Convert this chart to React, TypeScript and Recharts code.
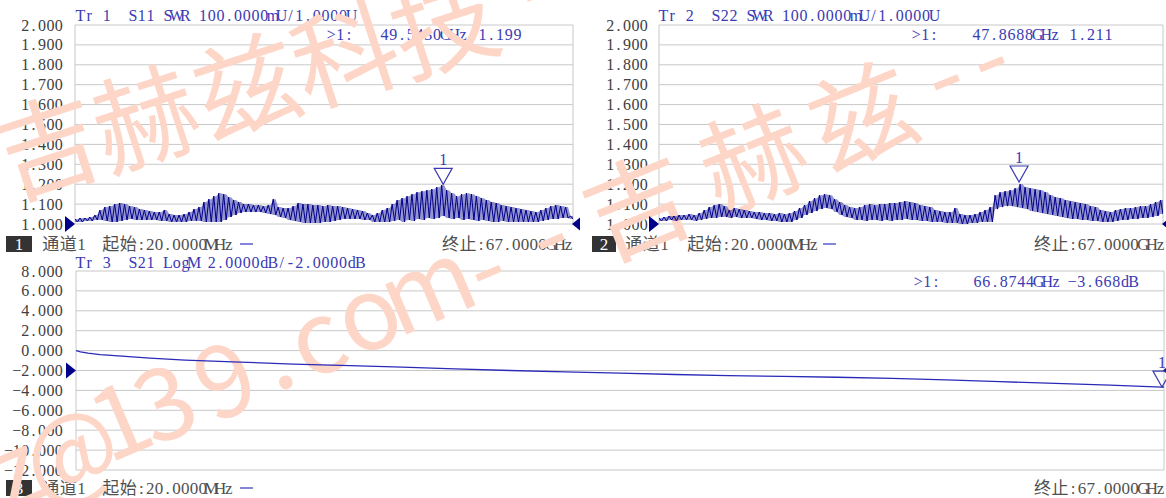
import React from 'react';
import { ComposedChart, LineChart, Line, Area, XAxis, YAxis, CartesianGrid, ReferenceDot } from 'recharts';

const START_GHZ = 0.02;
const STOP_GHZ = 67;

const swrTicks = [1.0, 1.1, 1.2, 1.3, 1.4, 1.5, 1.6, 1.7, 1.8, 1.9, 2.0];
const swrTickLabels = ['1.000', '1.100', '1.200', '1.300', '1.400', '1.500', '1.600', '1.700', '1.800', '1.900', '2.000'];
const logTicks = [-12, -10, -8, -6, -4, -2, 0, 2, 4, 6, 8];
const logTickLabels = ['−12.000', '−10.000', '−8.000', '−6.000', '−4.000', '−2.000', '0.000', '2.000', '4.000', '6.000', '8.000'];

// S11 SWR sweep: upper and lower envelope of the ripple, read along the sweep
const s11Upper = [
  1.025, 1.03, 1.03, 1.035, 1.045, 1.07, 1.085, 1.09, 1.1, 1.105,
  1.1, 1.09, 1.085, 1.075, 1.07, 1.065, 1.06, 1.06, 1.07, 1.05,
  1.045, 1.045, 1.05, 1.06, 1.075, 1.085, 1.11, 1.125, 1.14, 1.155,
  1.15, 1.135, 1.12, 1.11, 1.1, 1.1, 1.095, 1.095, 1.09, 1.095,
  1.125, 1.085, 1.08, 1.08, 1.09, 1.105, 1.1, 1.1, 1.095, 1.095,
  1.09, 1.095, 1.09, 1.09, 1.085, 1.08, 1.075, 1.07, 1.065, 1.055,
  1.045, 1.055, 1.07, 1.08, 1.1, 1.12, 1.13, 1.14, 1.15, 1.16,
  1.165, 1.17, 1.175, 1.185, 1.195, 1.17, 1.155, 1.14, 1.15, 1.155,
  1.15, 1.14, 1.13, 1.12, 1.11, 1.105, 1.095, 1.09, 1.085, 1.08,
  1.075, 1.07, 1.065, 1.06, 1.07, 1.08, 1.09, 1.095, 1.09, 1.085,
  1.04,
];
const s11Lower = [
  1.01, 1.01, 1.015, 1.015, 1.02, 1.02, 1.015, 1.01, 1.01, 1.015,
  1.02, 1.025, 1.02, 1.02, 1.02, 1.02, 1.02, 1.015, 1.015, 1.01,
  1.01, 1.01, 1.01, 1.015, 1.015, 1.015, 1.01, 1.01, 1.01, 1.01,
  1.02, 1.035, 1.045, 1.055, 1.06, 1.06, 1.06, 1.06, 1.055, 1.05,
  1.045, 1.035, 1.03, 1.02, 1.015, 1.01, 1.005, 1.005, 1.005, 1.005,
  1.01, 1.01, 1.015, 1.02, 1.025, 1.025, 1.025, 1.025, 1.02, 1.02,
  1.01, 1.01, 1.01, 1.01, 1.015, 1.02, 1.01, 1.02, 1.015, 1.025,
  1.02, 1.03, 1.025, 1.03, 1.04, 1.03, 1.025, 1.03, 1.02, 1.025,
  1.02, 1.015, 1.02, 1.015, 1.01, 1.01, 1.015, 1.01, 1.01, 1.01,
  1.01, 1.01, 1.01, 1.01, 1.015, 1.02, 1.025, 1.025, 1.03, 1.03,
  1.025,
];

// S22 SWR sweep envelopes
const s22Upper = [
  1.03, 1.035, 1.04, 1.04, 1.045, 1.045, 1.05, 1.045, 1.055, 1.07,
  1.085, 1.095, 1.1, 1.09, 1.07, 1.08, 1.075, 1.07, 1.065, 1.06,
  1.06, 1.055, 1.055, 1.05, 1.055, 1.05, 1.055, 1.065, 1.08, 1.095,
  1.115, 1.13, 1.145, 1.15, 1.145, 1.125, 1.11, 1.095, 1.085, 1.08,
  1.085, 1.095, 1.1, 1.095, 1.1, 1.1, 1.105, 1.105, 1.11, 1.115,
  1.11, 1.105, 1.095, 1.09, 1.085, 1.07, 1.065, 1.06, 1.06, 1.08,
  1.05, 1.045, 1.045, 1.05, 1.06, 1.07, 1.085, 1.145, 1.16, 1.165,
  1.17, 1.18, 1.2, 1.185, 1.18, 1.175, 1.17, 1.16, 1.145, 1.135,
  1.13, 1.12, 1.115, 1.11, 1.105, 1.1, 1.09, 1.085, 1.07, 1.065,
  1.06, 1.07, 1.075, 1.08, 1.08, 1.085, 1.09, 1.09, 1.1, 1.11,
  1.12,
];
const s22Lower = [
  1.015, 1.015, 1.02, 1.015, 1.02, 1.02, 1.02, 1.015, 1.02, 1.025,
  1.03, 1.03, 1.035, 1.035, 1.03, 1.035, 1.03, 1.03, 1.03, 1.025,
  1.02, 1.02, 1.015, 1.015, 1.01, 1.01, 1.01, 1.02, 1.03, 1.045,
  1.055, 1.065, 1.075, 1.08, 1.075, 1.06, 1.045, 1.035, 1.03, 1.02,
  1.02, 1.015, 1.02, 1.02, 1.015, 1.02, 1.015, 1.02, 1.02, 1.025,
  1.02, 1.02, 1.015, 1.015, 1.01, 1.01, 1.01, 1.005, 1.005, 1.005,
  1.0, 1.0, 1.005, 1.005, 1.01, 1.01, 1.01, 1.075, 1.085, 1.09,
  1.09, 1.085, 1.08, 1.075, 1.065, 1.06, 1.055, 1.05, 1.045, 1.04,
  1.035, 1.03, 1.025, 1.025, 1.02, 1.02, 1.015, 1.015, 1.01, 1.01,
  1.01, 1.015, 1.02, 1.02, 1.025, 1.025, 1.03, 1.03, 1.035, 1.04,
  1.05,
];

// S21 LogM (dB)
const s21Freq = [0.02, 0.3, 0.76, 1.5, 2.85, 4.57, 6.73, 10.12, 13.38, 16.89, 20.09, 23.35, 26.74, 30.12, 33.51, 36.89, 40.16, 43.54, 46.87, 50.25, 53.58, 56.9, 60.29, 63.67, 66.87, 67.0];
const s21Values = [0.0, -0.12, -0.25, -0.4, -0.55, -0.75, -0.95, -1.15, -1.35, -1.5, -1.67, -1.83, -2.0, -2.13, -2.27, -2.4, -2.52, -2.6, -2.68, -2.8, -2.95, -3.12, -3.3, -3.47, -3.668, -3.66];

const s11Marker = { f: 49.543, v: 1.199 };
const s22Marker = { f: 47.8688, v: 1.211 };
const s21Marker = { f: 66.8744, v: -3.668 };

const gridX = Array.from({ length: 11 }, (_, i) => START_GHZ + (i * (STOP_GHZ - START_GHZ)) / 10);

type Pt = { f: number; v: number; band?: [number, number] };

function zigzag(upper: number[], lower: number[]): Pt[] {
  const n = upper.length + lower.length;
  const step = (STOP_GHZ - START_GHZ) / (n - 1);
  const out: Pt[] = [];
  for (let i = 0; i < upper.length; i++) {
    const band: [number, number] = [lower[i], upper[i]];
    out.push({ f: START_GHZ + 2 * i * step, v: upper[i], band });
    if (i < lower.length) out.push({ f: START_GHZ + (2 * i + 1) * step, v: lower[i], band });
  }
  return out;
}

const s11Data = zigzag(s11Upper, s11Lower);
const s22Data = zigzag(s22Upper, s22Lower);
const s21Data: Pt[] = s21Freq.map((f, i) => ({ f, v: s21Values[i] }));

const SERIF = "'Liberation Serif', 'Noto Sans CJK SC', serif";
const WM_FONT = "'Noto Sans CJK SC', 'Noto Sans', sans-serif";
const TRACE = '#00008b';
const BLUE_TEXT = '#3a3ab4';
const GRID = '#c8c8c8';

function isWide(c: string) {
  return /[\u2E80-\u9FFF\uFF01-\uFF60]/.test(c);
}

function MonoText({ x, y, text, cell, anchor = 'start', fill, size }: any) {
  const chars = Array.from(text as string);
  const units = chars.map((c) => (isWide(c) ? 2 : 1));
  const total = units.reduce((a, b) => a + b, 0) * cell;
  let pos = anchor === 'end' ? x - total : x;
  const xs: number[] = [];
  const shown: string[] = [];
  chars.forEach((c, i) => {
    const w = units[i] * cell;
    if (c !== ' ') {
      xs.push(+(pos + w / 2).toFixed(2));
      shown.push(c);
    }
    pos += w;
  });
  return (
    <text x={xs.join(' ')} y={y} textAnchor="middle" fill={fill} fontSize={size} fontFamily={SERIF}>
      {shown.join('')}
    </text>
  );
}

const makeTick = (ticks: number[], labels: string[]) => (props: any) => {
  const { x, y, payload } = props;
  const idx = ticks.indexOf(payload.value);
  const label = idx >= 0 ? labels[idx] : String(payload.value);
  return <MonoText x={x} y={y + 5.5} text={label} cell={8.4} anchor="end" fill="#404040" size={16} />;
};
const swrTick = makeTick(swrTicks, swrTickLabels);
const logTick = makeTick(logTicks, logTickLabels);

const leftRef = (p: any) => (
  <polygon points={`${p.cx - 10},${p.cy - 8} ${p.cx},${p.cy} ${p.cx - 10},${p.cy + 8}`} fill={TRACE} />
);
const rightRef = (p: any) => (
  <polygon points={`${p.cx - 1},${p.cy} ${p.cx + 9},${p.cy - 8} ${p.cx + 9},${p.cy + 8}`} fill={TRACE} />
);
const markerShape = (p: any) => (
  <g>
    <polygon
      points={`${p.cx - 9},${p.cy - 16} ${p.cx + 9},${p.cy - 16} ${p.cx},${p.cy}`}
      fill="none"
      stroke={BLUE_TEXT}
      strokeWidth={1.2}
    />
    <text x={p.cx} y={p.cy - 19} textAnchor="middle" fontSize={16} fontFamily={SERIF} fill={BLUE_TEXT}>
      1
    </text>
  </g>
);

type PanelCfg = {
  left: number;
  top: number;
  width: number;
  height: number;
  axisWidth: number;
  margin: { top: number; right: number; bottom: number };
  domain: [number, number];
  ticks: number[];
  tick: any;
  tickMargin: number;
  data: Pt[];
  refLevel: number;
  marker: { f: number; v: number };
  stroke: string;
  strokeWidth: number;
  banded: boolean;
};

const panels: PanelCfg[] = [
  {
    left: 0, top: 0, width: 580, height: 250, axisWidth: 75,
    margin: { top: 25, right: 7, bottom: 26 },
    domain: [1, 2], ticks: swrTicks, tick: swrTick, tickMargin: 6,
    data: s11Data, refLevel: 1, marker: s11Marker, stroke: TRACE, strokeWidth: 1, banded: true,
  },
  {
    left: 580, top: 0, width: 586, height: 250, axisWidth: 79,
    margin: { top: 25, right: 3, bottom: 26 },
    domain: [1, 2], ticks: swrTicks, tick: swrTick, tickMargin: 5,
    data: s22Data, refLevel: 1, marker: s22Marker, stroke: TRACE, strokeWidth: 1, banded: true,
  },
  {
    left: 0, top: 250, width: 1166, height: 248, axisWidth: 76,
    margin: { top: 21, right: 2, bottom: 28 },
    domain: [-12, 8], ticks: logTicks, tick: logTick, tickMargin: 7,
    data: s21Data, refLevel: -2, marker: s21Marker, stroke: '#2a2ab8', strokeWidth: 1.3, banded: false,
  },
];

function BasePanel({ c }: { c: PanelCfg }) {
  return (
    <div style={{ position: 'absolute', left: c.left, top: c.top }}>
      <LineChart width={c.width} height={c.height} data={c.data} margin={{ ...c.margin, left: 0 }}>
        <CartesianGrid stroke={GRID} strokeWidth={1} />
        <XAxis
          type="number"
          dataKey="f"
          domain={[START_GHZ, STOP_GHZ]}
          ticks={gridX}
          interval={0}
          height={0}
          tick={false}
          axisLine={false}
          tickLine={false}
          allowDataOverflow
        />
        <YAxis
          type="number"
          domain={c.domain}
          ticks={c.ticks}
          interval={0}
          width={c.axisWidth}
          axisLine={false}
          tickLine={false}
          tickMargin={c.tickMargin}
          tick={c.tick}
          allowDataOverflow
        />
      </LineChart>
    </div>
  );
}

function TracePanel({ c }: { c: PanelCfg }) {
  return (
    <div style={{ position: 'absolute', left: c.left, top: c.top }}>
      <ComposedChart width={c.width} height={c.height} data={c.data} margin={{ ...c.margin, left: c.axisWidth }}>
        <XAxis hide type="number" dataKey="f" domain={[START_GHZ, STOP_GHZ]} allowDataOverflow />
        <YAxis hide type="number" domain={c.domain} allowDataOverflow />
        {c.banded && (
          <Area
            type="linear"
            dataKey="band"
            stroke="none"
            fill={TRACE}
            fillOpacity={0.42}
            dot={false}
            activeDot={false}
            isAnimationActive={false}
          />
        )}
        <Line
          type="linear"
          dataKey="v"
          stroke={c.stroke}
          strokeWidth={c.strokeWidth}
          dot={false}
          activeDot={false}
          isAnimationActive={false}
        />
        <ReferenceDot x={START_GHZ} y={c.refLevel} ifOverflow="visible" shape={leftRef} />
        <ReferenceDot x={STOP_GHZ} y={c.refLevel} ifOverflow="visible" shape={rightRef} />
        <ReferenceDot x={c.marker.f} y={c.marker.v} ifOverflow="visible" shape={markerShape} />
      </ComposedChart>
    </div>
  );
}

function StatusLine({ boxX, boxW, num, y, chanX, startX, dashX, stopEnd }: any) {
  return (
    <g>
      <rect x={boxX} y={y - 8} width={boxW} height={16} fill="#333" />
      <text x={boxX + boxW / 2} y={y + 6} textAnchor="middle" fill="#fff" fontSize={17} fontFamily={SERIF}>
        {num}
      </text>
      <MonoText x={chanX} y={y + 6} text="通道1" cell={8.75} fill="#505050" size={17} />
      <MonoText x={startX} y={y + 6} text="起始:20.0000MHz" cell={8.75} fill="#505050" size={17} />
      <line x1={dashX} x2={dashX + 13} y1={y} y2={y} stroke="#8484d8" strokeWidth={2} />
      <MonoText x={stopEnd} y={y + 6} text="终止:67.0000GHz" cell={8.75} anchor="end" fill="#505050" size={17} />
    </g>
  );
}

function Texts() {
  return (
    <svg width={1166} height={498} style={{ position: 'absolute', left: 0, top: 0 }}>
      <MonoText x={76} y={21} text="Tr 1  S11 SWR 100.0000mU/1.0000U" cell={8.75} fill={BLUE_TEXT} size={16} />
      <MonoText x={327} y={40} text=">1:" cell={8.75} fill={BLUE_TEXT} size={16} />
      <MonoText x={380} y={40} text="49.5430GHz" cell={8.75} fill={BLUE_TEXT} size={16} />
      <MonoText x={478} y={40} text="1.199" cell={8.75} fill={BLUE_TEXT} size={16} />

      <MonoText x={659} y={21} text="Tr 2  S22 SWR 100.0000mU/1.0000U" cell={8.75} fill={BLUE_TEXT} size={16} />
      <MonoText x={912} y={40} text=">1:" cell={8.75} fill={BLUE_TEXT} size={16} />
      <MonoText x={972} y={40} text="47.8688GHz" cell={8.75} fill={BLUE_TEXT} size={16} />
      <MonoText x={1069} y={40} text="1.211" cell={8.75} fill={BLUE_TEXT} size={16} />

      <MonoText x={76} y={268} text="Tr 3  S21 LogM 2.0000dB/-2.0000dB" cell={8.75} fill={BLUE_TEXT} size={16} />
      <MonoText x={914} y={287} text=">1:" cell={8.75} fill={BLUE_TEXT} size={16} />
      <MonoText x={973} y={287} text="66.8744GHz" cell={8.75} fill={BLUE_TEXT} size={16} />
      <MonoText x={1068} y={287} text="−3.668dB" cell={8.75} fill={BLUE_TEXT} size={16} />

      <StatusLine boxX={6} boxW={26} num="1" y={244} chanX={42} startX={102} dashX={240} stopEnd={573} />
      <StatusLine boxX={592} boxW={24} num="2" y={244} chanX={625} startX={687} dashX={823} stopEnd={1165} />
      <StatusLine boxX={6} boxW={26} num="3" y={488} chanX={42} startX={102} dashX={240} stopEnd={1165} />
    </svg>
  );
}

const WM_COLOR = '#fdd6c8';
const wmGlyphs = [
  { ch: '吉', x: 45, y: 140, r: -18, k: 'c' },
  { ch: '赫', x: 143, y: 112, r: -18, k: 'c' },
  { ch: '兹', x: 245, y: 80, r: -18, k: 'c' },
  { ch: '科', x: 343, y: 48, r: -18, k: 'c' },
  { ch: '技', x: 442, y: 18, r: -18, k: 'c' },
  { ch: '-', x: 540, y: -2, r: -18, k: 'h' },
  { ch: 'z', x: 18, y: 478, r: -23, k: 'x' },
  { ch: '@', x: 73, y: 458, r: -23, k: 'a' },
  { ch: '1', x: 120, y: 420, r: -23, k: 'd' },
  { ch: '3', x: 165, y: 403, r: -23, k: 'd' },
  { ch: '9', x: 225, y: 380, r: -23, k: 'd' },
  { ch: '.', x: 286, y: 383, r: -23, k: 'p' },
  { ch: 'c', x: 320, y: 347, r: -23, k: 'x' },
  { ch: 'o', x: 371, y: 322, r: -23, k: 'x' },
  { ch: 'm', x: 430, y: 295, r: -23, k: 'x' },
  { ch: '-', x: 490, y: 277, r: -23, k: 'h' },
  { ch: '-', x: 553, y: 245, r: -23, k: 'h' },
  { ch: '吉', x: 635, y: 200, r: -22, k: 'c' },
  { ch: '赫', x: 750, y: 152, r: -22, k: 'c' },
  { ch: '兹', x: 860, y: 110, r: -22, k: 'c' },
  { ch: '-', x: 948, y: 86, r: -22, k: 'h' },
  { ch: '-', x: 993, y: 68, r: -22, k: 'h' },
];
const wmOffset: Record<string, number> = { c: 0, d: 36, x: 27, p: 5, h: 24, a: 30 };

function Watermark() {
  return (
    <svg width={1166} height={498} style={{ position: 'absolute', left: 0, top: 0, pointerEvents: 'none' }}>
      {wmGlyphs.map((g, i) => (
        <g key={i} transform={`translate(${g.x},${g.y}) rotate(${g.r})`}>
          <text
            x={0}
            y={wmOffset[g.k]}
            textAnchor="middle"
            dominantBaseline={g.k === 'c' ? 'central' : 'alphabetic'}
            fontSize={g.k === 'c' ? 105 : 100}
            fontFamily={WM_FONT}
            fill={WM_COLOR}
          >
            {g.ch}
          </text>
        </g>
      ))}
    </svg>
  );
}

export default function App() {
  return (
    <div
      style={{
        position: 'absolute',
        left: 0,
        top: 0,
        width: 1166,
        height: 498,
        background: '#fff',
        overflow: 'hidden',
      }}
    >
      {panels.map((c, i) => (
        <BasePanel key={`b${i}`} c={c} />
      ))}
      <Texts />
      <Watermark />
      {panels.map((c, i) => (
        <TracePanel key={`t${i}`} c={c} />
      ))}
    </div>
  );
}
